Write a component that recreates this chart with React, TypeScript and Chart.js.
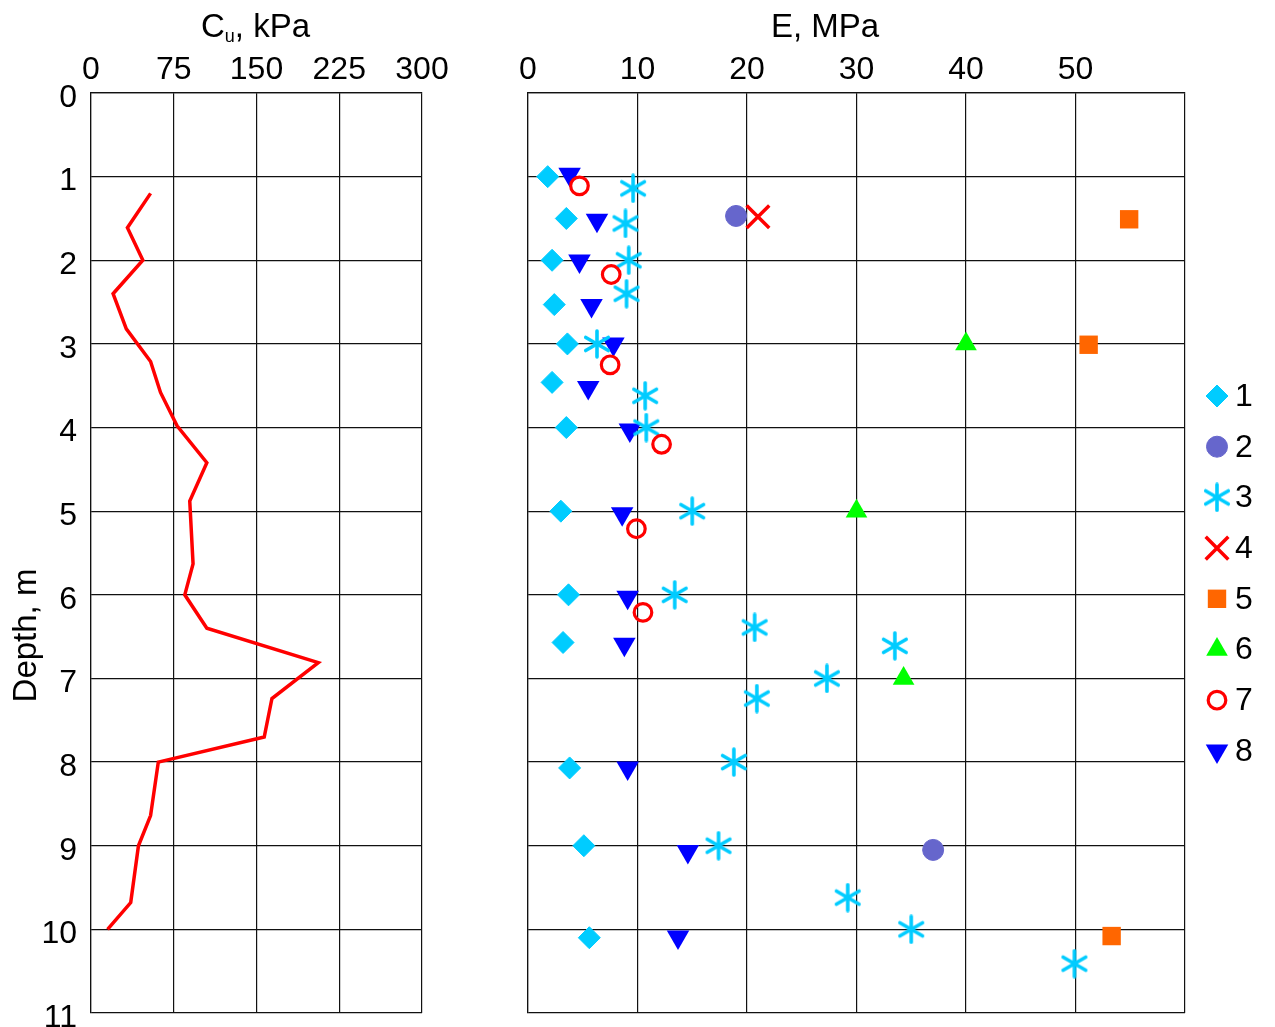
import React, { useEffect, useRef } from 'react';
import { Chart, registerables, PointElement } from 'chart.js';

Chart.register(...registerables);

const FONT = '"Liberation Sans", Arial, Helvetica, sans-serif';

// ---- Left panel: undrained shear strength profile ----
const cuValues = [54, 33, 47, 20, 32, 54, 63, 78, 105, 89.5, 92.5, 85, 105, 206, 164, 157, 61, 54, 43, 36, 15];
const cuDepths = [1.2, 1.61, 2.0, 2.4, 2.82, 3.21, 3.58, 3.98, 4.42, 4.88, 5.63, 6.0, 6.4, 6.81, 7.24, 7.7, 8.0, 8.64, 9.0, 9.68, 10.0];
const cuTickStep = 75;
const cuMax = 300;
const depthMax = 11;

// ---- Right panel: modulus E by method ----
const legendLabels = ['1', '2', '3', '4', '5', '6', '7', '8'];
const eMax = 60;
const eTickStep = 10;

const s1E = [1.8, 3.5, 2.2, 2.4, 3.6, 2.2, 3.5, 3.0, 3.7, 3.2, 3.8, 5.1, 5.6];
const s1D = [1.0, 1.5, 2.0, 2.53, 3.0, 3.46, 4.0, 5.0, 6.0, 6.57, 8.07, 9.0, 10.1];
const s2E = [19.0, 37.0];
const s2D = [1.47, 9.05];
const s3E = [9.6, 8.9, 9.2, 9.0, 6.3, 10.7, 10.8, 15.0, 13.4, 20.7, 33.5, 27.3, 20.9, 18.8, 17.4, 29.2, 35.0, 49.9];
const s3D = [1.14, 1.56, 2.0, 2.4, 3.0, 3.62, 4.0, 5.0, 6.0, 6.39, 6.61, 7.0, 7.24, 8.0, 9.0, 9.62, 10.0, 10.41];
const s4E = [21.0];
const s4D = [1.48];
const s5E = [54.9, 51.2, 53.3];
const s5D = [1.51, 3.01, 10.08];
const s6E = [40.0, 30.0, 34.3];
const s6D = [3.0, 5.0, 7.0];
const s7E = [4.7, 7.6, 7.5, 12.2, 9.9, 10.5];
const s7D = [1.11, 2.17, 3.25, 4.2, 5.21, 6.21];
const s8E = [3.8, 6.3, 4.7, 5.8, 7.8, 5.5, 9.3, 8.6, 9.1, 8.8, 9.1, 14.6, 13.7];
const s8D = [0.97, 1.52, 2.01, 2.54, 3.0, 3.52, 4.03, 5.03, 6.03, 6.59, 8.07, 9.07, 10.09];

const CYAN = '#00CCFF';
const PURPLE = '#6666CC';
const RED = '#FF0000';
const ORANGE = '#FF6600';
const GREEN = '#00FF00';
const BLUE = '#0000FF';

const pts = (xs: number[], ys: number[]) => xs.map((x, i) => ({ x, y: ys[i] }));

function makeAsterisk(): HTMLCanvasElement {
  const c = document.createElement('canvas');
  c.width = 30;
  c.height = 30;
  const g = c.getContext('2d')!;
  g.strokeStyle = CYAN;
  g.lineWidth = 3.6;
  g.lineCap = 'round';
  const cx = 15, cy = 15, r = 13;
  [90, 30, 150].forEach((deg) => {
    const a = (deg * Math.PI) / 180;
    g.beginPath();
    g.moveTo(cx - r * Math.cos(a), cy - r * Math.sin(a));
    g.lineTo(cx + r * Math.cos(a), cy + r * Math.sin(a));
    g.stroke();
  });
  return c;
}

const axisFont = { family: FONT, size: 32, lineHeight: 1 };
const GRID = '#111';

export default function App() {
  const leftRef = useRef<HTMLCanvasElement>(null);
  const rightRef = useRef<HTMLCanvasElement>(null);

  useEffect(() => {
    const asterisk = makeAsterisk();

    const titlesLeft = {
      id: 'titlesLeft',
      afterDraw(chart: any) {
        const ctx = chart.ctx;
        ctx.save();
        ctx.fillStyle = '#000';
        ctx.textBaseline = 'alphabetic';
        ctx.textAlign = 'left';
        ctx.font = `33px ${FONT}`;
        let x = 201;
        const y = 37;
        ctx.fillText('C', x, y);
        x += ctx.measureText('C').width;
        ctx.font = `18px ${FONT}`;
        ctx.fillText('u', x, y + 5);
        x += ctx.measureText('u').width;
        ctx.font = `33px ${FONT}`;
        ctx.fillText(', kPa', x, y);
        ctx.translate(36, 635.5);
        ctx.rotate(-Math.PI / 2);
        ctx.textAlign = 'center';
        ctx.fillText('Depth, m', 0, 0);
        ctx.restore();
      },
    };

    const leftChart = new Chart(leftRef.current!, {
      type: 'scatter',
      data: {
        datasets: [
          {
            label: 'Cu',
            data: pts(cuValues, cuDepths),
            showLine: true,
            borderColor: RED,
            backgroundColor: RED,
            borderWidth: 3.5,
            pointRadius: 0,
            tension: 0,
          },
        ],
      },
      options: {
        animation: false,
        responsive: false,
        devicePixelRatio: 1,
        layout: { padding: { left: 0, right: 48, top: 0, bottom: 47 } },
        plugins: { legend: { display: false }, tooltip: { enabled: false } },
        scales: {
          x: {
            type: 'linear',
            position: 'top',
            min: 0,
            max: cuMax,
            grid: { color: GRID, lineWidth: 1.2, drawTicks: false },
            border: { color: GRID, width: 1.2 },
            ticks: { stepSize: cuTickStep, font: axisFont, color: '#000', padding: 7, maxRotation: 0, autoSkip: false },
            afterFit: (s: any) => { s.height = 93; },
          },
          y: {
            type: 'linear',
            reverse: true,
            min: 0,
            max: depthMax,
            grid: { color: GRID, lineWidth: 1.2, drawTicks: false },
            border: { color: GRID, width: 1.2 },
            ticks: { stepSize: 1, font: axisFont, color: '#000', padding: 14, labelOffset: 5, autoSkip: false },
            afterFit: (s: any) => { s.width = 91; },
          },
        },
      },
      plugins: [titlesLeft],
    });

    const styles = [
      { label: legendLabels[0], E: s1E, D: s1D, pointStyle: 'rectRot', radius: 11, bg: CYAN, bc: CYAN, bw: 1, rot: 0, order: 5 },
      { label: legendLabels[1], E: s2E, D: s2D, pointStyle: 'circle', radius: 10.5, bg: PURPLE, bc: PURPLE, bw: 1, rot: 0, order: 5 },
      { label: legendLabels[2], E: s3E, D: s3D, pointStyle: asterisk, radius: 11, bg: CYAN, bc: CYAN, bw: 0, rot: 0, order: 4 },
      { label: legendLabels[3], E: s4E, D: s4D, pointStyle: 'crossRot', radius: 16, bg: RED, bc: RED, bw: 3.5, rot: 0, order: 5 },
      { label: legendLabels[4], E: s5E, D: s5D, pointStyle: 'rect', radius: 13, bg: ORANGE, bc: ORANGE, bw: 0, rot: 0, order: 5 },
      { label: legendLabels[5], E: s6E, D: s6D, pointStyle: 'triangle', radius: 12.5, bg: GREEN, bc: GREEN, bw: 0, rot: 0, order: 5 },
      { label: legendLabels[6], E: s7E, D: s7D, pointStyle: 'circle', radius: 8.8, bg: 'rgba(0,0,0,0)', bc: RED, bw: 3.2, rot: 0, order: 1 },
      { label: legendLabels[7], E: s8E, D: s8D, pointStyle: 'triangle', radius: 13, bg: BLUE, bc: BLUE, bw: 0, rot: 180, order: 10 },
    ];

    const legendRight = {
      id: 'legendRight',
      afterDraw(chart: any) {
        const ctx = chart.ctx;
        ctx.save();
        styles.forEach((s, i) => {
          const y = 396 + i * 50.7;
          const p = new PointElement({
            x: 1217 - 470,
            y,
            options: {
              radius: s.radius,
              pointStyle: s.pointStyle,
              rotation: s.rot,
              borderWidth: s.bw,
              borderColor: s.bc,
              backgroundColor: s.bg,
            },
          } as any);
          p.draw(ctx);
          ctx.fillStyle = '#000';
          ctx.font = `32px ${FONT}`;
          ctx.textAlign = 'left';
          ctx.textBaseline = 'middle';
          ctx.fillText(s.label, 1235 - 470, y + 1);
        });
        ctx.font = `33px ${FONT}`;
        ctx.textBaseline = 'alphabetic';
        ctx.textAlign = 'left';
        ctx.fillText('E, MPa', 771 - 470, 37);
        ctx.restore();
      },
    };

    const rightChart = new Chart(rightRef.current!, {
      type: 'scatter',
      data: {
        datasets: styles.map((s) => ({
          label: s.label,
          data: pts(s.E, s.D),
          pointStyle: s.pointStyle as any,
          pointRadius: s.radius,
          pointHoverRadius: s.radius,
          pointRotation: s.rot,
          pointBorderWidth: s.bw,
          backgroundColor: s.bg,
          borderColor: s.bc,
          showLine: false,
          order: s.order,
        })),
      },
      options: {
        animation: false,
        responsive: false,
        devicePixelRatio: 1,
        layout: { padding: { left: 0, right: 90, top: 0, bottom: 27 } },
        plugins: { legend: { display: false }, tooltip: { enabled: false } },
        scales: {
          x: {
            type: 'linear',
            position: 'top',
            min: 0,
            max: eMax,
            grid: { color: GRID, lineWidth: 1.2, drawTicks: false },
            border: { color: GRID, width: 1.2 },
            ticks: {
              stepSize: eTickStep,
              font: axisFont,
              color: '#000',
              padding: 7,
              maxRotation: 0,
              autoSkip: false,
              callback: (v: any) => (v === eMax ? '' : String(v)),
            },
            afterFit: (s: any) => { s.height = 93; },
          },
          y: {
            type: 'linear',
            reverse: true,
            min: 0,
            max: depthMax,
            grid: { color: GRID, lineWidth: 1.2, drawTicks: false },
            border: { color: GRID, width: 1.2 },
            ticks: { stepSize: 1, display: false },
            afterFit: (s: any) => { s.width = 58; },
          },
        },
      },
      plugins: [legendRight],
    });

    return () => {
      leftChart.destroy();
      rightChart.destroy();
    };
  }, []);

  return (
    <div style={{ position: 'absolute', left: 0, top: 0, width: 1275, height: 1027, overflow: 'hidden', background: '#fff' }}>
      <canvas ref={leftRef} width={470} height={1060} style={{ position: 'absolute', left: 0, top: 0, width: 470, height: 1060 }} />
      <canvas ref={rightRef} width={805} height={1040} style={{ position: 'absolute', left: 470, top: 0, width: 805, height: 1040 }} />
    </div>
  );
}
